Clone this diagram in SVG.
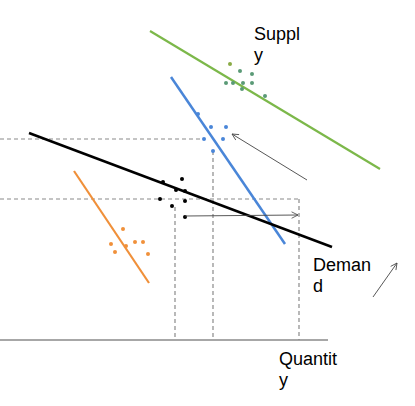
<svg xmlns="http://www.w3.org/2000/svg" width="415" height="406" viewBox="0 0 415 406">
<defs>
<style>
.dash{stroke:#8a8a8a;stroke-width:1.2;stroke-dasharray:4 3;fill:none}
.lbl{font-family:"Liberation Sans",Arial,sans-serif;font-size:18px;fill:#000}
.arr{stroke:#444;stroke-width:0.9;fill:none;marker-end:url(#ah)}
.g{fill:#5a9a76}.b{fill:#4a86d8}.k{fill:#000}.o{fill:#f0903a}
</style>
<marker id="ah" viewBox="0 0 10 10" refX="9" refY="5" markerWidth="8" markerHeight="8" orient="auto" markerUnits="userSpaceOnUse">
<path d="M1,1 L9,5 L1,9" fill="none" stroke="#444" stroke-width="1"/>
</marker>
</defs>
<rect width="415" height="406" fill="#fff"/>
<g id="guides">
<line class="dash" x1="0" y1="139" x2="204" y2="139"/>
<line class="dash" x1="213" y1="151" x2="213" y2="340"/>
<line class="dash" x1="0" y1="199" x2="299" y2="199"/>
<line class="dash" x1="299" y1="199" x2="299" y2="340"/>
<line class="dash" x1="175" y1="207" x2="175" y2="340"/>
<line x1="0" y1="340" x2="328" y2="340" stroke="#8a8a8a" stroke-width="1.5"/>
</g>
<g id="supply">
<line x1="150" y1="31" x2="380" y2="169" stroke="#7cb84a" stroke-width="2.2"/>
<circle cx="230" cy="64" r="2" fill="#8aab45"/>
<circle class="g" cx="240" cy="71" r="2"/><circle class="g" cx="252" cy="74" r="2"/>
<circle class="g" cx="226" cy="83" r="2"/><circle class="g" cx="233" cy="83" r="2"/>
<circle class="g" cx="243" cy="83" r="2"/><circle class="g" cx="252" cy="83" r="2"/>
<circle class="g" cx="242" cy="89" r="2"/><circle class="g" cx="265" cy="96" r="2"/>
<text class="lbl" x="254" y="40">Suppl</text>
<text class="lbl" x="254" y="61">y</text>
</g>
<g id="supply2">
<line x1="171" y1="77" x2="285" y2="244" stroke="#4a86d8" stroke-width="2.5"/>
<circle class="b" cx="198" cy="114" r="2"/><circle class="b" cx="211" cy="127" r="2"/>
<circle class="b" cx="226" cy="127" r="2"/><circle class="b" cx="204" cy="139" r="2"/>
<circle class="b" cx="223" cy="139" r="2"/><circle class="b" cx="213" cy="151" r="2"/>
</g>
<g id="demand">
<line x1="29" y1="133" x2="332" y2="247" stroke="#000" stroke-width="2.5"/>
<circle class="k" cx="163" cy="182" r="2"/><circle class="k" cx="182" cy="179" r="2"/>
<circle class="k" cx="176" cy="190" r="2"/><circle class="k" cx="185" cy="191" r="2"/>
<circle class="k" cx="160" cy="199" r="2"/><circle class="k" cx="185" cy="201" r="2"/>
<circle class="k" cx="172" cy="206" r="2"/><circle class="k" cx="185" cy="217" r="2"/>
<text class="lbl" x="313" y="271">Deman</text>
<text class="lbl" x="313" y="292">d</text>
</g>
<g id="orange">
<line x1="74" y1="171" x2="149" y2="283" stroke="#f0903a" stroke-width="2.2"/>
<circle class="o" cx="123" cy="229" r="2"/><circle class="o" cx="111" cy="244" r="2"/>
<circle class="o" cx="126" cy="246" r="2"/><circle class="o" cx="135" cy="242" r="2"/>
<circle class="o" cx="143" cy="242" r="2"/><circle class="o" cx="115" cy="252" r="2"/>
<circle class="o" cx="148" cy="254" r="2"/>
</g>
<g id="axis-label">
<text class="lbl" x="279" y="365">Quantit</text>
<text class="lbl" x="279" y="386">y</text>
</g>
<g id="connectors">
<line class="arr" x1="185" y1="216" x2="298" y2="215"/>
<line class="arr" x1="307" y1="180" x2="232" y2="134"/>
<line class="arr" x1="373" y1="297" x2="397" y2="263"/>
</g>
</svg>
